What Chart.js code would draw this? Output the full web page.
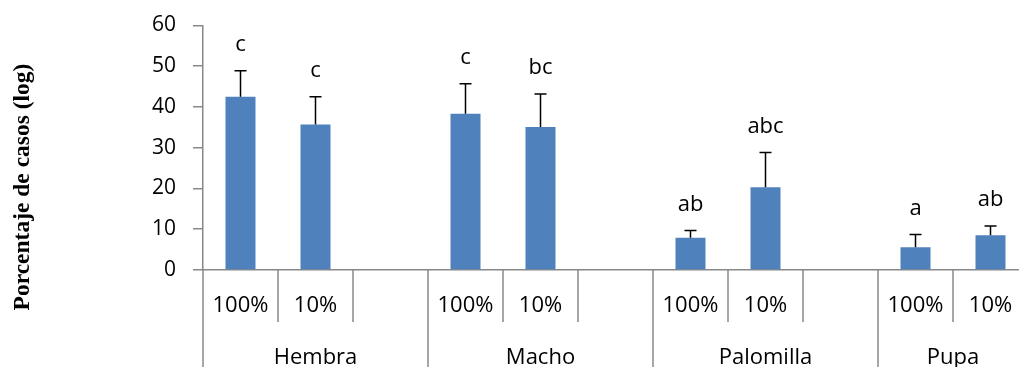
<!DOCTYPE html>
<html>
<head>
<meta charset="utf-8">
<script src="https://cdn.jsdelivr.net/npm/chart.js@4"></script>
<style>
html,body{margin:0;padding:0;background:#fff;overflow:hidden}
#wrap{width:1028px;height:367px;position:relative}
</style>
</head>
<body>
<div id="wrap"><canvas id="myChart"></canvas></div>
<script>
const groups = ['Hembra', 'Macho', 'Palomilla', 'Pupa'];
const doses = ['100%', '10%'];
const means = [42.5, 35.7, 38.3, 35.1, 7.9, 20.3, 5.6, 8.5];
const errors = [6.4, 6.8, 7.4, 8.1, 1.8, 8.5, 3.1, 2.3];
const letters = ['c', 'c', 'c', 'bc', 'ab', 'abc', 'a', 'ab'];
const yTitle = 'Porcentaje de casos (log)';

// one slot per dose, plus an empty slot between groups
const slots = [], values = [], errs = [], marks = [], groupOf = [];
let k = 0;
groups.forEach((g, gi) => {
  doses.forEach(d => {
    slots.push(d); values.push(means[k]); errs.push(errors[k]); marks.push(letters[k]); groupOf.push(gi);
    k++;
  });
  if (gi < groups.length - 1) {
    slots.push(''); values.push(null); errs.push(null); marks.push(''); groupOf.push(gi);
  }
});

const axisGray = '#888888';

const extras = {
  id: 'extras',
  afterDraw(chart) {
    const ctx = chart.ctx, x = chart.scales.x, y = chart.scales.y;
    const base = chart.chartArea.bottom;
    const half = (x.getPixelForValue(1) - x.getPixelForValue(0)) / 2;
    ctx.save();
    // error bars and letters
    values.forEach((v, i) => {
      if (v == null) return;
      const px = x.getPixelForValue(i);
      const top = y.getPixelForValue(v);
      const et = y.getPixelForValue(v + errs[i]);
      ctx.strokeStyle = '#000';
      ctx.lineWidth = 1.5;
      ctx.beginPath();
      ctx.moveTo(px, top); ctx.lineTo(px, et);
      ctx.moveTo(px - 6, et); ctx.lineTo(px + 6, et);
      ctx.stroke();
      ctx.fillStyle = '#000';
      ctx.font = '22px "Open Sans"';
      ctx.textAlign = 'center';
      ctx.textBaseline = 'middle';
      ctx.fillText(marks[i], px, et - 26);
    });
    // hierarchical category axis
    ctx.strokeStyle = axisGray;
    ctx.lineWidth = 1.5;
    ctx.font = '22px "Open Sans"';
    slots.forEach((s, i) => {
      const left = x.getPixelForValue(i) - half;
      const groupStart = i === 0 || groupOf[i] !== groupOf[i - 1];
      ctx.beginPath();
      ctx.moveTo(left, base);
      ctx.lineTo(left, groupStart ? chart.height : base + 52);
      ctx.stroke();
      ctx.fillText(s, x.getPixelForValue(i), base + 36);
    });
    const lastRight = x.getPixelForValue(slots.length - 1) + half;
    ctx.beginPath();
    ctx.moveTo(lastRight, base); ctx.lineTo(lastRight, chart.height);
    ctx.stroke();
    groups.forEach((g, gi) => {
      const idx = groupOf.map((v, i) => v === gi ? i : -1).filter(i => i >= 0);
      const l = x.getPixelForValue(idx[0]) - half;
      const r = x.getPixelForValue(idx[idx.length - 1]) + half;
      ctx.fillText(g, (l + r) / 2, base + 88);
    });
    // y axis title
    ctx.translate(23, 187);
    ctx.rotate(-Math.PI / 2);
    ctx.font = 'bold 23.5px "Liberation Serif"';
    ctx.fillText(yTitle, 0, 0);
    ctx.restore();
  }
};

const data = {
  labels: slots,
  datasets: [{
    label: 'Porcentaje',
    backgroundColor: '#4F81BD',
    borderColor: '#4F81BD',
    data: values,
    categoryPercentage: 1,
    barPercentage: 0.4
  }]
};

const config = {
  type: 'bar',
  data: data,
  plugins: [extras],
  options: {
    responsive: true,
    maintainAspectRatio: false,
    animation: false,
    layout: { padding: { top: 0, bottom: 89, left: 0, right: 0 } },
    plugins: { legend: { display: false }, tooltip: { enabled: false } },
    scales: {
      x: {
        ticks: { display: false },
        grid: { display: false },
        border: { color: axisGray, width: 1.5 }
      },
      y: {
        min: 0,
        max: 60,
        afterFit(scale) { scale.width = 203; },
        ticks: { stepSize: 10, padding: 17, color: '#000', font: { family: 'Open Sans', size: 21, lineHeight: 0.8 } },
        grid: { drawOnChartArea: false, tickLength: 10, color: axisGray, lineWidth: 1.5 },
        border: { color: axisGray, width: 1.5 }
      }
    }
  }
};

new Chart(document.getElementById('myChart'), config);
</script>
</body>
</html>
